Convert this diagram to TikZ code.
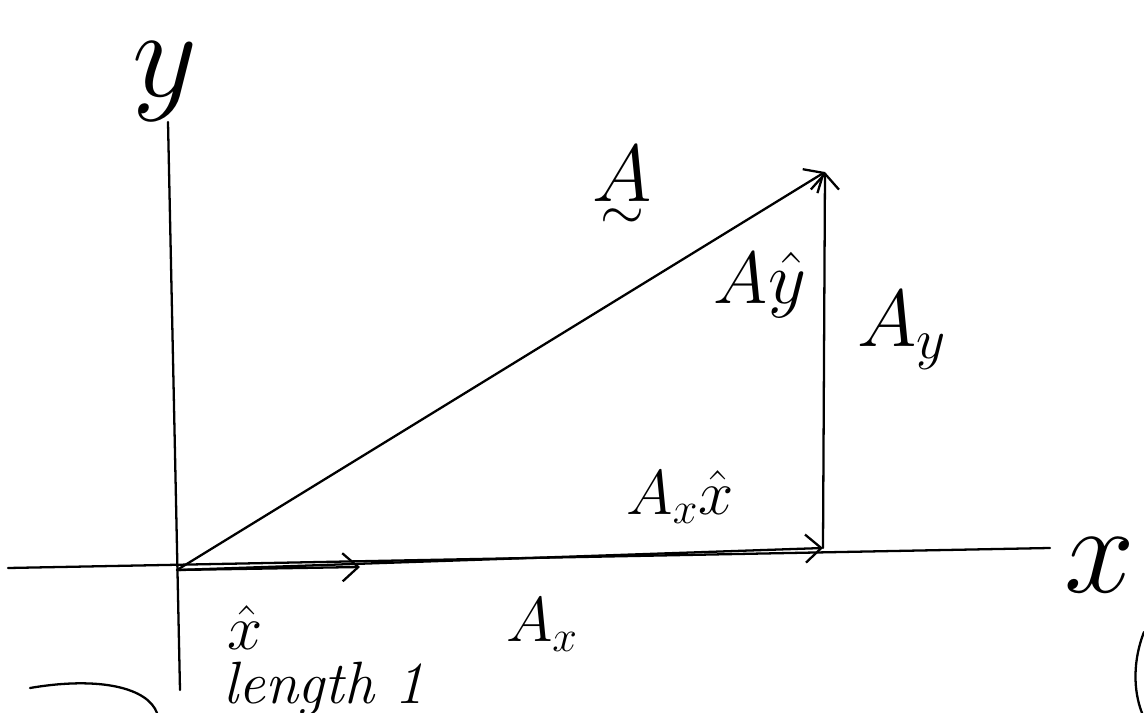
\RequirePackage{fix-cm}
\documentclass[tikz,border=0pt]{standalone}
\usepackage{amsmath}
\usetikzlibrary{arrows.meta}

\tikzstyle{axis} = [line width=1.3pt, line cap=round]
\tikzstyle{vec} = [line width=1.3pt, line cap=round, -{Straight Barb[length=9pt,width=16pt,line width=1.3pt]}]
\tikzstyle{lbl} = [inner sep=0pt]
\tikzstyle{huge} = [lbl, font=\fontsize{72}{72}\selectfont]
\tikzstyle{big} = [lbl, font=\fontsize{46}{46}\selectfont]
\tikzstyle{mid} = [lbl, font=\fontsize{36}{36}\selectfont]
\tikzstyle{small} = [lbl, font=\fontsize{34}{34}\selectfont]

\begin{document}
\begin{tikzpicture}[x=0.02cm, y=-0.02cm]
\useasboundingbox (0,0) rectangle (1144,713);

% axes
\coordinate (xl) at (8,568);
\coordinate (xr) at (1050,548);
\coordinate (yt) at (168,122);
\coordinate (yb) at (180,690);
\draw[axis] (xl) -- (xr);
\draw[axis] (yt) -- (yb);

% vector and its parts
\coordinate (O) at (177,570);
\coordinate (tip) at (825,172);
\coordinate (foot) at (823,548);
\coordinate (unit) at (360,567);
\draw[vec] (O) -- (tip);
\draw[vec] (foot) -- (tip);
\draw[vec] (O) -- (foot);
\draw[vec] (O) -- (unit);

% labels
\node[huge] (ylab) at (165,82) {$y$};
\node[huge] (xlab) at (1100,565) {$x$};
\node[big] (Avec) at (622,190) {$\underset{\sim}{A}$};
\node[big, font=\fontsize{42}{42}\selectfont] (Ayhat) at (760,285) {$A\hat{y}$};
\node[big] (Ay) at (902,330) {$A_y$};
\node[mid] (Axhat) at (680,497) {$A_x\hat{x}$};
\node[mid] (xhat) at (245,628) {$\hat{x}$};
\node[mid] (Ax) at (542,625) {$A_x$};
\node[small] (len) at (324,689) {\itshape length 1};

% cut-off strokes at the edges
\draw[axis] (30,688) .. controls (100,676) and (148,688) .. (157,713);
\draw[axis] (1144,632) .. controls (1133,660) and (1133,690) .. (1142,713);
\end{tikzpicture}
\end{document}
